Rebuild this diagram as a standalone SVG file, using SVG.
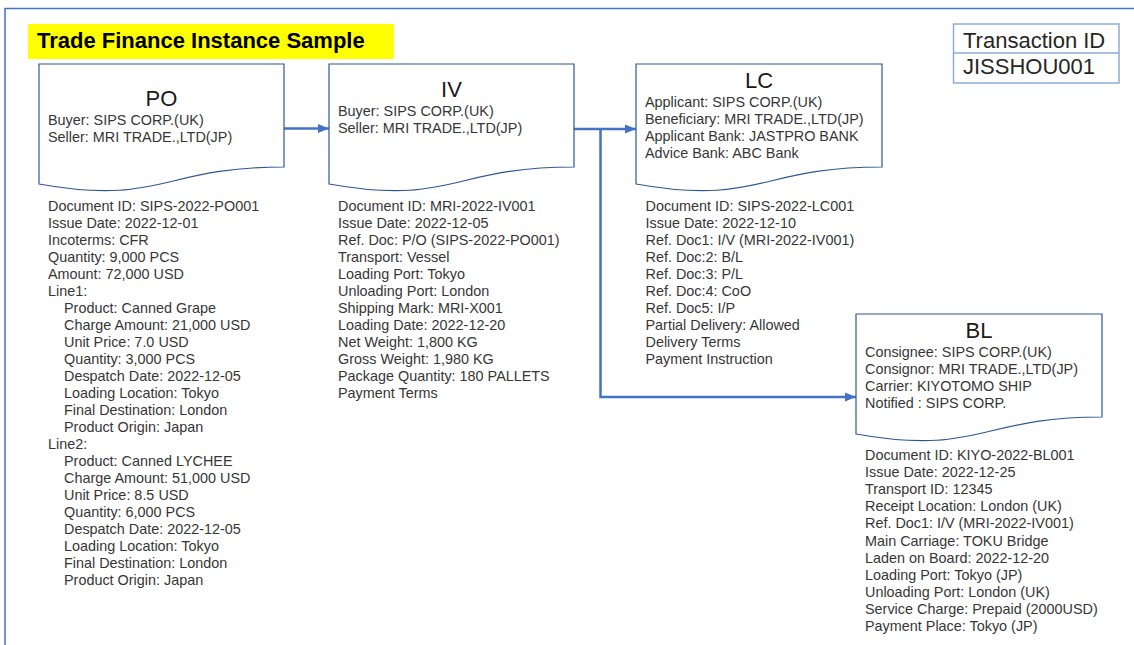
<svg xmlns="http://www.w3.org/2000/svg" width="1134" height="645" viewBox="0 0 1134 645">
  <style>
    .frame { fill: none; stroke: #4472C4; stroke-width: 1.5; }
    .doc { fill: #ffffff; stroke: #2F5597; stroke-width: 1.2; }
    .conn { fill: none; stroke: #4472C4; stroke-width: 2.5; }
    .ttl { font-family: "Liberation Sans", Arial, sans-serif; font-size: 22px; fill: #1a1a1a; text-anchor: middle; }
    .txt { font-family: "Liberation Sans", Arial, sans-serif; font-size: 14.4px; fill: #363636; }
    .head { font-family: "Liberation Sans", Arial, sans-serif; font-size: 22px; font-weight: bold; fill: #000000; }
    .tid { font-family: "Liberation Sans", Arial, sans-serif; font-size: 22px; fill: #262626; }
    .tbox { fill: #ffffff; stroke: #8FAADC; stroke-width: 1.5; }
  </style>
  <defs>
    <marker id="arrow" markerUnits="userSpaceOnUse" markerWidth="12" markerHeight="12" viewBox="0 0 12 12" refX="11" refY="6" orient="auto">
      <path d="M0,1.5 L11,6 L0,10.5 Z" fill="#4472C4"/>
    </marker>
  </defs>

  <rect width="1134" height="645" fill="#ffffff"/>

  <!-- page border -->
  <path class="frame" d="M5,645 V8.5 H1134"/>

  <!-- heading -->
  <g id="heading">
    <rect x="28" y="24" width="366" height="35" fill="#FFFF00"/>
    <text class="head" x="37" y="48">Trade Finance Instance Sample</text>
  </g>

  <!-- transaction id -->
  <g id="transaction-id">
    <rect class="tbox" x="953.5" y="24" width="165.5" height="59"/>
    <line class="tbox" x1="953.5" y1="53" x2="1119" y2="53"/>
    <text class="tid" x="963" y="47.5">Transaction ID</text>
    <text class="tid" x="963" y="74">JISSHOU001</text>
  </g>

  <!-- connectors -->
  <g id="connectors">
    <line class="conn" x1="284" y1="128.5" x2="329" y2="128.5" marker-end="url(#arrow)"/>
    <line class="conn" x1="574" y1="129" x2="636" y2="129" marker-end="url(#arrow)"/>
    <path class="conn" d="M600.5,129 V397 H856" marker-end="url(#arrow)"/>
  </g>

  <!-- PO -->
  <g id="node-po">
    <path class="doc" d="M39,64 H284 V167 C161.5,167 161.5,206 39,184 Z"/>
    <text class="ttl" x="161.5" y="106">PO</text>
    <text class="txt" x="48" y="124.5">Buyer: SIPS CORP.(UK)</text>
    <text class="txt" x="48" y="141.5">Seller: MRI TRADE.,LTD(JP)</text>
    <text class="txt">
      <tspan x="48" y="211">Document ID: SIPS-2022-PO001</tspan>
      <tspan x="48" y="228">Issue Date: 2022-12-01</tspan>
      <tspan x="48" y="245">Incoterms: CFR</tspan>
      <tspan x="48" y="262">Quantity: 9,000 PCS</tspan>
      <tspan x="48" y="279">Amount: 72,000 USD</tspan>
      <tspan x="48" y="296">Line1:</tspan>
      <tspan x="64" y="313">Product: Canned Grape</tspan>
      <tspan x="64" y="330">Charge Amount: 21,000 USD</tspan>
      <tspan x="64" y="347">Unit Price: 7.0 USD</tspan>
      <tspan x="64" y="364">Quantity: 3,000 PCS</tspan>
      <tspan x="64" y="381">Despatch Date: 2022-12-05</tspan>
      <tspan x="64" y="398">Loading Location: Tokyo</tspan>
      <tspan x="64" y="415">Final Destination: London</tspan>
      <tspan x="64" y="432">Product Origin: Japan</tspan>
      <tspan x="48" y="449">Line2:</tspan>
      <tspan x="64" y="466">Product: Canned LYCHEE</tspan>
      <tspan x="64" y="483">Charge Amount: 51,000 USD</tspan>
      <tspan x="64" y="500">Unit Price: 8.5 USD</tspan>
      <tspan x="64" y="517">Quantity: 6,000 PCS</tspan>
      <tspan x="64" y="534">Despatch Date: 2022-12-05</tspan>
      <tspan x="64" y="551">Loading Location: Tokyo</tspan>
      <tspan x="64" y="568">Final Destination: London</tspan>
      <tspan x="64" y="585">Product Origin: Japan</tspan>
    </text>
  </g>

  <!-- IV -->
  <g id="node-iv">
    <path class="doc" d="M329,64 H574 V167 C451.5,167 451.5,206 329,184 Z"/>
    <text class="ttl" x="451.5" y="96.5">IV</text>
    <text class="txt" x="338" y="116">Buyer: SIPS CORP.(UK)</text>
    <text class="txt" x="338" y="133">Seller: MRI TRADE.,LTD(JP)</text>
    <text class="txt">
      <tspan x="338" y="211">Document ID: MRI-2022-IV001</tspan>
      <tspan x="338" y="228">Issue Date: 2022-12-05</tspan>
      <tspan x="338" y="245">Ref. Doc: P/O (SIPS-2022-PO001)</tspan>
      <tspan x="338" y="262">Transport: Vessel</tspan>
      <tspan x="338" y="279">Loading Port: Tokyo</tspan>
      <tspan x="338" y="296">Unloading Port: London</tspan>
      <tspan x="338" y="313">Shipping Mark: MRI-X001</tspan>
      <tspan x="338" y="330">Loading Date: 2022-12-20</tspan>
      <tspan x="338" y="347">Net Weight: 1,800 KG</tspan>
      <tspan x="338" y="364">Gross Weight: 1,980 KG</tspan>
      <tspan x="338" y="381">Package Quantity: 180 PALLETS</tspan>
      <tspan x="338" y="398">Payment Terms</tspan>
    </text>
  </g>

  <!-- LC -->
  <g id="node-lc">
    <path class="doc" d="M636,64 H882 V167 C759,167 759,206 636,184 Z"/>
    <text class="ttl" x="759" y="88">LC</text>
    <text class="txt" x="645" y="106.5">Applicant: SIPS CORP.(UK)</text>
    <text class="txt" x="645" y="123.8">Beneficiary: MRI TRADE.,LTD(JP)</text>
    <text class="txt" x="645" y="141.1">Applicant Bank: JASTPRO BANK</text>
    <text class="txt" x="645" y="158.4">Advice Bank: ABC Bank</text>
    <text class="txt">
      <tspan x="645.5" y="211">Document ID: SIPS-2022-LC001</tspan>
      <tspan x="645.5" y="228">Issue Date: 2022-12-10</tspan>
      <tspan x="645.5" y="245">Ref. Doc1: I/V (MRI-2022-IV001)</tspan>
      <tspan x="645.5" y="262">Ref. Doc:2: B/L</tspan>
      <tspan x="645.5" y="279">Ref. Doc:3: P/L</tspan>
      <tspan x="645.5" y="296">Ref. Doc:4: CoO</tspan>
      <tspan x="645.5" y="313">Ref. Doc5: I/P</tspan>
      <tspan x="645.5" y="330">Partial Delivery: Allowed</tspan>
      <tspan x="645.5" y="347">Delivery Terms</tspan>
      <tspan x="645.5" y="364">Payment Instruction</tspan>
    </text>
  </g>

  <!-- BL -->
  <g id="node-bl">
    <path class="doc" d="M856,314 H1102 V417 C979,417 979,456 856,434 Z"/>
    <text class="ttl" x="979" y="337.5">BL</text>
    <text class="txt" x="865" y="356.7">Consignee: SIPS CORP.(UK)</text>
    <text class="txt" x="865" y="374">Consignor: MRI TRADE.,LTD(JP)</text>
    <text class="txt" x="865" y="391.2">Carrier: KIYOTOMO SHIP</text>
    <text class="txt" x="865" y="408.4">Notified : SIPS CORP.</text>
    <text class="txt">
      <tspan x="865" y="460">Document ID: KIYO-2022-BL001</tspan>
      <tspan x="865" y="477.1">Issue Date: 2022-12-25</tspan>
      <tspan x="865" y="494.2">Transport ID: 12345</tspan>
      <tspan x="865" y="511.3">Receipt Location: London (UK)</tspan>
      <tspan x="865" y="528.4">Ref. Doc1: I/V (MRI-2022-IV001)</tspan>
      <tspan x="865" y="545.5">Main Carriage: TOKU Bridge</tspan>
      <tspan x="865" y="562.6">Laden on Board: 2022-12-20</tspan>
      <tspan x="865" y="579.7">Loading Port: Tokyo (JP)</tspan>
      <tspan x="865" y="596.8">Unloading Port: London (UK)</tspan>
      <tspan x="865" y="613.9">Service Charge: Prepaid (2000USD)</tspan>
      <tspan x="865" y="631">Payment Place: Tokyo (JP)</tspan>
    </text>
  </g>
</svg>
